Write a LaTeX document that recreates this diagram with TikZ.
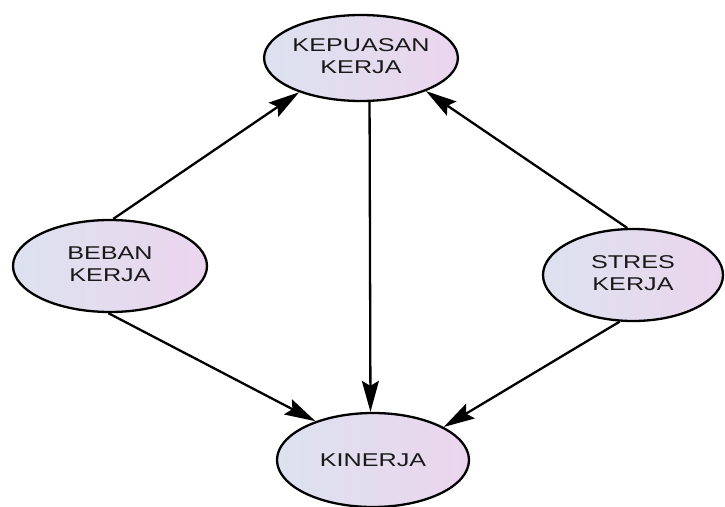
\documentclass[tikz,border=0pt]{standalone}
\usepackage{fontspec}
\setmainfont{Liberation Sans}
\usetikzlibrary{shapes.geometric,arrows.meta}
\newcommand\twolines[2]{\scalebox{1.36}[1]{\begin{tabular}{@{}c@{}}#1\\#2\end{tabular}}}
\newcommand\oneline[1]{\scalebox{1.36}[1]{#1}}
\definecolor{ellleft}{HTML}{DCE2EF}
\definecolor{ellright}{HTML}{EBD5EE}
\tikzset{
  ell/.style={ellipse, draw=black, line width=2.3pt, inner sep=0pt,
    left color=ellleft, right color=ellright,
    font=\fontsize{18.5}{22}\selectfont, text=black!90},
  arr/.style={line width=2.3pt, -{Stealth[length=31pt,width=17pt,inset=5pt]}}
}
\begin{document}
\begin{tikzpicture}[x=1pt,y=-1pt]
\useasboundingbox (0,0) rectangle (725,506);
\clip (0,0) rectangle (725,506);
\fill[white] (0,0) rectangle (725,506);
\node[ell, minimum width=192pt, minimum height=86pt] (kep) at (361,58) {\twolines{KEPUASAN}{KERJA}};
\node[ell, minimum width=194pt, minimum height=92pt] (beban) at (110,266) {\twolines{BEBAN}{KERJA}};
\node[ell, minimum width=180pt, minimum height=92pt] (stres) at (633,275) {\twolines{STRES}{KERJA}};
\node[ell, minimum width=192pt, minimum height=94pt] (kin) at (373,460) {\oneline{KINERJA}};
\draw[arr] (beban.86) -- (kep.209);
\draw[arr] (stres.97) -- (kep.333);
\draw[arr] (kep.281) -- (kin.93);
\draw[arr] (beban.268) -- (kin.146);
\draw[arr] (stres.254) -- (kin.25);
\end{tikzpicture}
\end{document}
